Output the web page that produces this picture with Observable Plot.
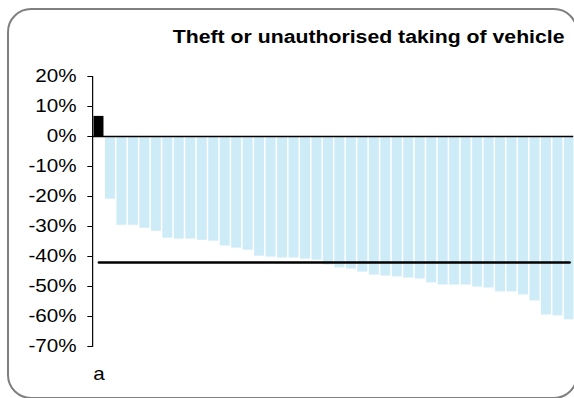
<!DOCTYPE html>
<html>
<head>
<meta charset="utf-8">
<script src="https://cdn.jsdelivr.net/npm/d3@7"></script>
<script src="https://cdn.jsdelivr.net/npm/@observablehq/plot@0.6"></script>
<style>
  html, body { margin: 0; background: white; overflow: hidden; }
  #wrap { position: relative; width: 574px; height: 398px; overflow: hidden; background: white; }
  #stretch { position: absolute; left: 0; top: 0; width: 486px; height: 398px; transform: scaleX(1.18); transform-origin: 0 0; overflow: hidden; }
  #title { position: absolute; left: 146.4px; top: 27.5px; font: bold 18px "Liberation Sans", Arial, sans-serif; line-height: 18px; white-space: nowrap; color: #000; }
  #chart { position: absolute; left: 0; top: 0; width: 486px; }
  #frame { position: absolute; left: 7px; top: 8px; width: 571px; height: 391px; box-sizing: border-box; border: 2px solid #7f7f7f; border-radius: 24px; }
</style>
</head>
<body>
<div id="wrap">
  <div id="stretch">
    <div id="chart"></div>
    <div id="title">Theft or unauthorised taking of vehicle</div>
  </div>
  <div id="frame"></div>
</div>
<script>
const title = "Theft or unauthorised taking of vehicle";
const categories = ["a","b","c","d","e","f","g","h","i","j","k","l","m","n","o","p","q","r","s","t","u","v","w","x","y","z",
  "aa","ab","ac","ad","ae","af","ag","ah","ai","aj","ak","al","am","an","ao","ap"];
const values = [6.7,
  -20.9, -29.6, -29.6, -30.6, -31.6, -33.9, -34.2, -34.2, -34.6, -34.9, -36.5, -37.2, -37.9,
  -39.9, -40.2, -40.5, -40.5, -40.9, -41.2, -42.8, -43.8, -44.2, -45.2, -46.2, -46.5, -46.8, -47.2,
  -47.5, -48.8, -49.5, -49.5, -49.5, -50.2, -50.5, -51.8, -51.8, -52.8, -54.8, -59.5, -59.8, -61.1];
const highlight = "a";
const average = -42;
const yTicks = [20, 10, 0, -10, -20, -30, -40, -50, -60, -70];
const xTickLabels = ["a"];

const data = categories.map((c, i) => ({category: c, value: values[i]}));

const chart = Plot.plot({
  width: 486,
  height: 398,
  marginTop: 76,
  marginBottom: 52,
  marginLeft: 78,
  marginRight: 0,
  style: {fontFamily: "'Liberation Sans', Arial, sans-serif", fontSize: "17.5px", color: "#000", background: "transparent", maxWidth: "none"},
  x: {domain: categories, range: [77.97, 487.6], padding: 0.13, ticks: xTickLabels, tickSize: 0, tickPadding: 21, label: null},
  y: {domain: [-70, 20], ticks: yTicks, tickFormat: d => `${d}%`, tickSize: 4, tickPadding: 9.6, line: true, label: null},
  marks: [
    Plot.barY(data, {x: "category", y: "value", fill: d => d.category === highlight ? "#000" : "#cdecf8"}),
    Plot.ruleY([0], {stroke: "#000", strokeWidth: 1.5}),
    Plot.lineY(data, {x: "category", y: () => average, stroke: "#000", strokeWidth: 2.5})
  ]
});
document.getElementById("chart").appendChild(chart);
</script>
</body>
</html>
